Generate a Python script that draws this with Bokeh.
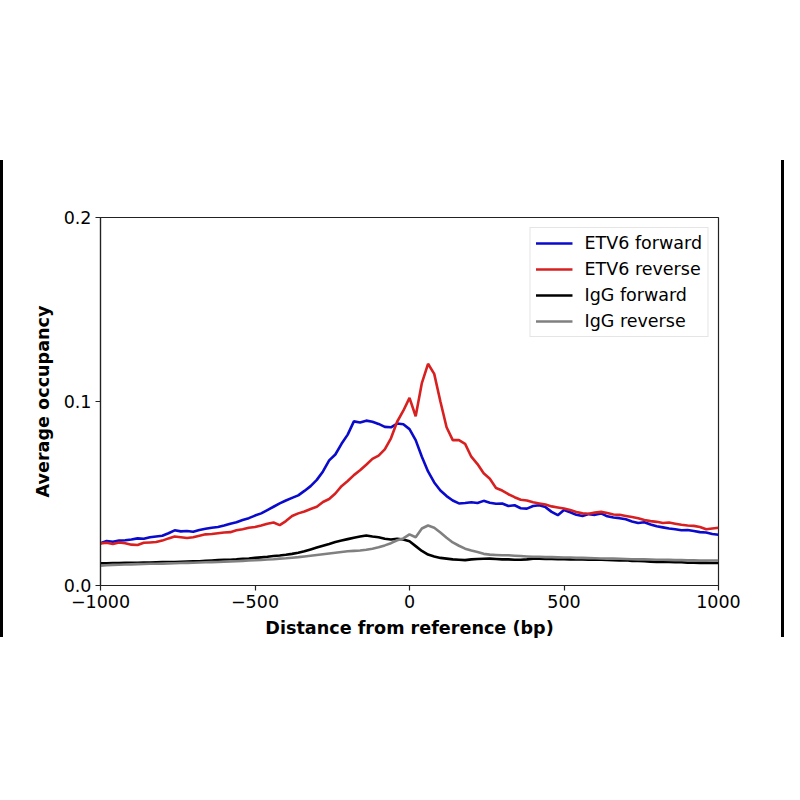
from bokeh.plotting import figure
from bokeh.models import Legend, LegendItem, FixedTicker, Div
from bokeh.layouts import row
from bokeh.embed import file_html
from bokeh.resources import INLINE

# distance from the reference site, bp (one sample every 20 bp)
distance = list(range(-1000, 1001, 20))

etv6_forward = [
    0.0230, 0.0242, 0.0238, 0.0244, 0.0246, 0.0250, 0.0256, 0.0254, 0.0262, 0.0266,
    0.0270, 0.0284, 0.0300, 0.0294, 0.0296, 0.0292, 0.0302, 0.0308, 0.0314, 0.0318,
    0.0326, 0.0336, 0.0344, 0.0356, 0.0366, 0.0380, 0.0392, 0.0410, 0.0428, 0.0446,
    0.0462, 0.0476, 0.0490, 0.0514, 0.0540, 0.0574, 0.0620, 0.0680, 0.0712, 0.0770,
    0.0820, 0.0892, 0.0886, 0.0896, 0.0890, 0.0878, 0.0862, 0.0860, 0.0880, 0.0876,
    0.0850, 0.0790, 0.0700, 0.0620, 0.0560, 0.0516, 0.0486, 0.0462, 0.0446, 0.0448,
    0.0452, 0.0448, 0.0460, 0.0450, 0.0444, 0.0446, 0.0432, 0.0436, 0.0420, 0.0418,
    0.0432, 0.0436, 0.0426, 0.0400, 0.0382, 0.0410, 0.0398, 0.0384, 0.0378, 0.0388,
    0.0384, 0.0392, 0.0376, 0.0370, 0.0366, 0.0360, 0.0348, 0.0340, 0.0344, 0.0332,
    0.0322, 0.0316, 0.0310, 0.0306, 0.0300, 0.0302, 0.0296, 0.0290, 0.0288, 0.0280,
    0.0276,
]

etv6_reverse = [
    0.0228, 0.0232, 0.0226, 0.0234, 0.0230, 0.0222, 0.0220, 0.0232, 0.0234, 0.0236,
    0.0244, 0.0256, 0.0266, 0.0262, 0.0258, 0.0262, 0.0270, 0.0278, 0.0280, 0.0284,
    0.0288, 0.0290, 0.0300, 0.0306, 0.0314, 0.0318, 0.0326, 0.0336, 0.0342, 0.0328,
    0.0350, 0.0378, 0.0392, 0.0402, 0.0416, 0.0428, 0.0454, 0.0470, 0.0500, 0.0540,
    0.0568, 0.0600, 0.0626, 0.0656, 0.0688, 0.0706, 0.0740, 0.0800, 0.0890, 0.0950,
    0.1020, 0.0920, 0.1100, 0.1205, 0.1150, 0.1000, 0.0860, 0.0790, 0.0790, 0.0770,
    0.0700, 0.0660, 0.0610, 0.0580, 0.0530, 0.0516, 0.0496, 0.0480, 0.0466, 0.0462,
    0.0452, 0.0446, 0.0440, 0.0430, 0.0424, 0.0418, 0.0410, 0.0400, 0.0392, 0.0390,
    0.0396, 0.0400, 0.0394, 0.0386, 0.0384, 0.0378, 0.0372, 0.0366, 0.0356, 0.0350,
    0.0346, 0.0340, 0.0342, 0.0336, 0.0330, 0.0326, 0.0324, 0.0318, 0.0306, 0.0310,
    0.0314,
]

igg_forward = [
    0.0120, 0.0121, 0.0122, 0.0122, 0.0123, 0.0124, 0.0124, 0.0125, 0.0125, 0.0126,
    0.0127, 0.0128, 0.0128, 0.0129, 0.0130, 0.0131, 0.0132, 0.0134, 0.0136, 0.0138,
    0.0139, 0.0140, 0.0142, 0.0145, 0.0147, 0.0150, 0.0153, 0.0156, 0.0160, 0.0163,
    0.0167, 0.0172, 0.0178, 0.0186, 0.0196, 0.0206, 0.0216, 0.0226, 0.0236, 0.0244,
    0.0252, 0.0260, 0.0266, 0.0272, 0.0266, 0.0262, 0.0254, 0.0250, 0.0254, 0.0250,
    0.0240, 0.0214, 0.0188, 0.0168, 0.0158, 0.0150, 0.0146, 0.0142, 0.0140, 0.0138,
    0.0142, 0.0144, 0.0145, 0.0146, 0.0144, 0.0142, 0.0142, 0.0140, 0.0140, 0.0142,
    0.0146, 0.0145, 0.0144, 0.0144, 0.0143, 0.0143, 0.0142, 0.0143, 0.0142, 0.0140,
    0.0141, 0.0140, 0.0139, 0.0138, 0.0136, 0.0138, 0.0134, 0.0133, 0.0132, 0.0130,
    0.0128, 0.0129, 0.0128, 0.0126, 0.0126, 0.0124, 0.0124, 0.0123, 0.0123, 0.0122,
    0.0122,
]

igg_reverse = [
    0.0108, 0.0110, 0.0112, 0.0113, 0.0114, 0.0115, 0.0116, 0.0117, 0.0118, 0.0118,
    0.0119, 0.0120, 0.0121, 0.0122, 0.0123, 0.0124, 0.0125, 0.0126, 0.0127, 0.0128,
    0.0130, 0.0131, 0.0132, 0.0134, 0.0136, 0.0137, 0.0139, 0.0141, 0.0143, 0.0146,
    0.0148, 0.0151, 0.0154, 0.0158, 0.0162, 0.0166, 0.0170, 0.0174, 0.0178, 0.0182,
    0.0186, 0.0188, 0.0190, 0.0194, 0.0200, 0.0208, 0.0218, 0.0230, 0.0246, 0.0256,
    0.0278, 0.0262, 0.0310, 0.0326, 0.0314, 0.0288, 0.0260, 0.0234, 0.0216, 0.0200,
    0.0190, 0.0182, 0.0172, 0.0168, 0.0166, 0.0164, 0.0164, 0.0162, 0.0160, 0.0158,
    0.0156, 0.0156, 0.0154, 0.0154, 0.0153, 0.0152, 0.0152, 0.0150, 0.0150, 0.0149,
    0.0148, 0.0147, 0.0146, 0.0146, 0.0145, 0.0144, 0.0143, 0.0142, 0.0142, 0.0141,
    0.0140, 0.0140, 0.0139, 0.0138, 0.0138, 0.0137, 0.0137, 0.0136, 0.0136, 0.0136,
    0.0136,
]

series_names = ["ETV6 forward", "ETV6 reverse", "IgG forward", "IgG reverse"]
series_colors = ["#0a0acc", "#d82020", "#000000", "#808080"]

x_ticks = [-1000, -500, 0, 500, 1000]
x_tick_labels = ["\u22121000", "\u2212500", "0", "500", "1000"]
y_ticks = [0.0, 0.1, 0.2]
y_tick_labels = ["0.0", "0.1", "0.2"]

FONT = "DejaVu Sans"

p = figure(width=778, height=784, output_backend="svg", toolbar_location=None,
           x_range=(-1000, 1000), y_range=(0.0, 0.2),
           min_border_left=97, min_border_right=63,
           min_border_top=217, min_border_bottom=199)
p.grid.visible = False
p.outline_line_color = "#222222"
p.outline_line_width = 1.2

p.xaxis.axis_label = "Distance from reference (bp)"
p.yaxis.axis_label = "Average occupancy"
for ax in (p.xaxis[0], p.yaxis[0]):
    ax.axis_label_text_font = FONT
    ax.axis_label_text_font_style = "bold"
    ax.axis_label_text_font_size = "17.6px"
    ax.axis_label_text_color = "black"
    ax.major_label_text_font = FONT
    ax.major_label_text_font_size = "17.5px"
    ax.major_label_text_color = "black"
    ax.axis_line_color = "#222222"
    ax.axis_line_width = 1.2
    ax.major_tick_line_color = "#222222"
    ax.major_tick_line_width = 1.2
    ax.major_tick_out = 5
    ax.major_tick_in = 0
    ax.minor_tick_line_color = None
    ax.major_label_standoff = 4

p.xaxis.ticker = FixedTicker(ticks=x_ticks)
p.xaxis.major_label_overrides = dict(zip(x_ticks, x_tick_labels))
p.yaxis.ticker = FixedTicker(ticks=y_ticks)
p.yaxis.major_label_overrides = dict(zip(y_ticks, y_tick_labels))
p.xaxis.axis_label_standoff = 7
p.yaxis.axis_label_standoff = 8

items = []
for name, color, ys in zip(series_names, series_colors,
                           [etv6_forward, etv6_reverse, igg_forward, igg_reverse]):
    r = p.line(distance, ys, line_color=color, line_width=2.6)
    items.append(LegendItem(label=name, renderers=[r]))

legend = Legend(items=items, location="top_right", margin=10, padding=5,
                spacing=6, glyph_width=37, glyph_height=20, label_height=20,
                label_standoff=12, label_text_font=FONT,
                label_text_font_size="17.5px", label_text_color="black",
                border_line_color="#cccccc", border_line_width=1,
                background_fill_alpha=0.85)
p.add_layout(legend)

# black edge bars of the original screenshot
left_bar = Div(text="", width=3, height=477, margin=(160, 0, 0, 0),
               styles={"background-color": "black"})
right_bar = Div(text="", width=3, height=477, margin=(160, 0, 0, 0),
                styles={"background-color": "black"})

layout = row(left_bar, p, right_bar, spacing=0)

open("out.html", "w").write(file_html(layout, INLINE))
